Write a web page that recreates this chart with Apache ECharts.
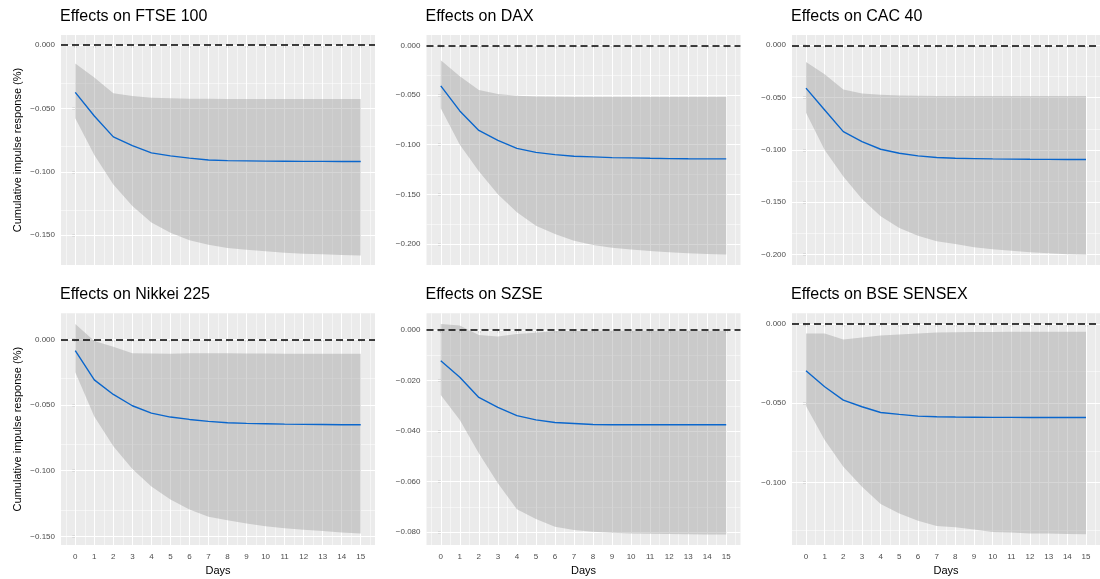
<!DOCTYPE html>
<html>
<head>
<meta charset="utf-8">
<script src="https://cdn.jsdelivr.net/npm/echarts@6/dist/echarts.min.js"></script>
<style>
  html, body { margin: 0; padding: 0; background: #fff; }
  #chart { width: 1100px; height: 579px; }
</style>
</head>
<body>
<div id="chart"></div>
<script>
// x axis: days after shock
const days = [0, 1, 2, 3, 4, 5, 6, 7, 8, 9, 10, 11, 12, 13, 14, 15];

const titles = ['Effects on FTSE 100', 'Effects on DAX', 'Effects on CAC 40',
    'Effects on Nikkei 225', 'Effects on SZSE', 'Effects on BSE SENSEX'];

// FTSE 100
const ftseMean = [-0.0373, -0.0559, -0.0724, -0.0793, -0.0850, -0.0874, -0.0892, -0.0906, -0.0911, -0.0913, -0.0915, -0.0916, -0.0917, -0.0917, -0.0918, -0.0918];
const ftseUpper = [-0.0144, -0.0255, -0.0380, -0.0402, -0.0415, -0.0420, -0.0423, -0.0424, -0.0425, -0.0425, -0.0425, -0.0425, -0.0425, -0.0425, -0.0425, -0.0425];
const ftseLower = [-0.0577, -0.0866, -0.1100, -0.1270, -0.1400, -0.1480, -0.1540, -0.1575, -0.1600, -0.1614, -0.1627, -0.1638, -0.1646, -0.1650, -0.1656, -0.1660];

// DAX
const daxMean = [-0.0407, -0.0660, -0.0857, -0.0957, -0.1037, -0.1077, -0.1100, -0.1117, -0.1123, -0.1130, -0.1133, -0.1137, -0.1140, -0.1142, -0.1143, -0.1143];
const daxUpper = [-0.0150, -0.0310, -0.0450, -0.0490, -0.0507, -0.0515, -0.0518, -0.0520, -0.0520, -0.0520, -0.0520, -0.0520, -0.0520, -0.0520, -0.0520, -0.0520];
const daxLower = [-0.0633, -0.1000, -0.1267, -0.1500, -0.1680, -0.1817, -0.1900, -0.1967, -0.2010, -0.2037, -0.2057, -0.2070, -0.2083, -0.2093, -0.2100, -0.2107];

// CAC 40
const cacMean = [-0.0410, -0.0619, -0.0825, -0.0920, -0.0994, -0.1032, -0.1057, -0.1073, -0.1080, -0.1083, -0.1086, -0.1088, -0.1090, -0.1091, -0.1092, -0.1092];
const cacUpper = [-0.0159, -0.0276, -0.0422, -0.0460, -0.0473, -0.0480, -0.0483, -0.0485, -0.0486, -0.0486, -0.0486, -0.0486, -0.0486, -0.0486, -0.0486, -0.0486];
const cacLower = [-0.0644, -0.1000, -0.1254, -0.1470, -0.1635, -0.1746, -0.1820, -0.1873, -0.1900, -0.1930, -0.1949, -0.1965, -0.1977, -0.1987, -0.1997, -0.2003];

// Nikkei 225
const nikkeiMean = [-0.0086, -0.0309, -0.0420, -0.0506, -0.0562, -0.0592, -0.0610, -0.0625, -0.0635, -0.0640, -0.0643, -0.0646, -0.0648, -0.0649, -0.0650, -0.0650];
const nikkeiUpper = [0.0116, -0.0013, -0.0056, -0.0106, -0.0109, -0.0110, -0.0107, -0.0106, -0.0107, -0.0108, -0.0109, -0.0110, -0.0110, -0.0110, -0.0110, -0.0110];
const nikkeiLower = [-0.0250, -0.0587, -0.0815, -0.0987, -0.1120, -0.1220, -0.1296, -0.1350, -0.1377, -0.1402, -0.1423, -0.1438, -0.1450, -0.1460, -0.1470, -0.1478];

// SZSE
const szseMean = [-0.0122, -0.0187, -0.0267, -0.0306, -0.0339, -0.0356, -0.0366, -0.0370, -0.0374, -0.0375, -0.0375, -0.0375, -0.0375, -0.0375, -0.0375, -0.0375];
const szseUpper = [0.0024, 0.0018, -0.0020, -0.0026, -0.0016, -0.0011, -0.0004, -0.0003, -0.0002, -0.0002, -0.0002, -0.0002, -0.0002, -0.0002, -0.0002, -0.0002];
const szseLower = [-0.0257, -0.0356, -0.0488, -0.0607, -0.0710, -0.0748, -0.0779, -0.0792, -0.0799, -0.0803, -0.0805, -0.0806, -0.0807, -0.0808, -0.0809, -0.0809];

// BSE SENSEX
const bseMean = [-0.0296, -0.0396, -0.0480, -0.0522, -0.0558, -0.0570, -0.0581, -0.0585, -0.0587, -0.0588, -0.0589, -0.0589, -0.0590, -0.0590, -0.0590, -0.0590];
const bseUpper = [-0.0061, -0.0061, -0.0099, -0.0086, -0.0073, -0.0067, -0.0061, -0.0055, -0.0053, -0.0052, -0.0051, -0.0050, -0.0050, -0.0050, -0.0050, -0.0050];
const bseLower = [-0.0518, -0.0732, -0.0900, -0.1025, -0.1134, -0.1193, -0.1239, -0.1273, -0.1281, -0.1294, -0.1310, -0.1314, -0.1319, -0.1320, -0.1323, -0.1325];

// y tick labels per panel
const yTicks = [
    [0, -0.05, -0.10, -0.15],
    [0, -0.05, -0.10, -0.15, -0.20],
    [0, -0.05, -0.10, -0.15, -0.20],
    [0, -0.05, -0.10, -0.15],
    [0, -0.02, -0.04, -0.06, -0.08],
    [0, -0.05, -0.10]
];
// y limits (ggplot expanded ranges)
const yMin = [-0.1735, -0.2212, -0.2100, -0.1566, -0.0851, -0.1392];
const yMax = [0.0080, 0.0105, 0.0098, 0.0198, 0.0066, 0.0066];

const means = [ftseMean, daxMean, cacMean, nikkeiMean, szseMean, bseMean];
const uppers = [ftseUpper, daxUpper, cacUpper, nikkeiUpper, szseUpper, bseUpper];
const lowers = [ftseLower, daxLower, cacLower, nikkeiLower, szseLower, bseLower];

// layout
const colLeft = [61, 426.5, 792];
const rowTop = [35, 313.3];
const rowHeight = [230, 231.7];
const panelWidth = 314;
const xMin = -0.75, xMax = 15.75;

const FONT = 'Liberation Sans, Arial, Helvetica, sans-serif';
const fmt = v => v.toFixed(3).replace('-', '\u2212');

const grids = [], xAxes = [], yAxes = [], titleList = [], series = [];

for (let i = 0; i < 6; i++) {
    const row = Math.floor(i / 3), col = i % 3;
    const bottomRow = row === 1;

    grids.push({
        left: colLeft[col], top: rowTop[row], width: panelWidth, height: rowHeight[row],
        show: true, backgroundColor: '#EBEBEB', borderWidth: 0
    });

    titleList.push({
        text: titles[i], left: colLeft[col] - 1, top: row === 0 ? 9 : 287, padding: 0,
        textStyle: { fontSize: 16, fontWeight: 'normal', color: '#000', fontFamily: FONT }
    });

    xAxes.push({
        type: 'value', gridIndex: i, min: xMin, max: xMax,
        axisLine: { show: false },
        splitLine: { show: false },
        axisTick: { show: true, length: 3, customValues: days, lineStyle: { color: '#333', width: 1.2 } },
        axisLabel: {
            show: bottomRow, customValues: days, margin: 8,
            color: '#4D4D4D', fontSize: 8, fontFamily: FONT
        },
        name: bottomRow ? 'Days' : '', nameLocation: 'middle', nameGap: 20,
        nameTextStyle: { fontSize: 11, color: '#000', fontFamily: FONT }
    });

    yAxes.push({
        type: 'value', gridIndex: i, min: yMin[i], max: yMax[i],
        axisLine: { show: false },
        splitLine: { show: false },
        axisTick: { show: true, length: 3, customValues: yTicks[i], lineStyle: { color: '#333', width: 1.2 } },
        axisLabel: {
            customValues: yTicks[i], margin: 6, formatter: fmt,
            color: '#4D4D4D', fontSize: 8, fontFamily: FONT
        },
        name: col === 0 ? 'Cumulative impulse response (%)' : '',
        nameLocation: 'middle', nameGap: 38,
        nameTextStyle: { fontSize: 11, color: '#000', fontFamily: FONT }
    });

    // gridlines: major at ticks, minor halfway
    const yStep = Math.abs(yTicks[i][1] - yTicks[i][0]);
    const yMinor = [];
    for (let k = -1; k < yTicks[i].length; k++) {
        const v = yTicks[i][0] - (k + 0.5) * yStep;
        if (v > yMin[i] && v < yMax[i]) yMinor.push(v);
    }
    const xMinor = [days[0] - 0.5].concat(days.map(d => d + 0.5));
    const gridLines = [];
    xMinor.forEach(v => gridLines.push({ xAxis: v, lineStyle: { width: 0.5 } }));
    yMinor.forEach(v => gridLines.push({ yAxis: v, lineStyle: { width: 0.5 } }));
    days.forEach(v => gridLines.push({ xAxis: v, lineStyle: { width: 1.1 } }));
    yTicks[i].forEach(v => gridLines.push({ yAxis: v, lineStyle: { width: 1.1 } }));

    series.push({
        type: 'line', xAxisIndex: i, yAxisIndex: i, data: [], z: 1, silent: true,
        markLine: {
            z: 1, silent: true, symbol: ['none', 'none'], label: { show: false },
            lineStyle: { color: '#FFFFFF', type: 'solid' },
            emphasis: { disabled: true },
            data: gridLines
        }
    });

    // confidence band as one polygon: upper edge forward, lower edge back
    const up = uppers[i], lo = lowers[i];
    series.push({
        type: 'custom', xAxisIndex: i, yAxisIndex: i, z: 2, silent: true,
        data: days.map((d, k) => [d, lo[k], up[k]]),
        renderItem: (params, api) => {
            if (params.dataIndex !== 0) return null;
            const pts = [];
            days.forEach((d, k) => pts.push(api.coord([d, up[k]])));
            for (let k = days.length - 1; k >= 0; k--) pts.push(api.coord([days[k], lo[k]]));
            return {
                type: 'polygon', shape: { points: pts },
                style: { fill: 'rgba(153,153,153,0.4)' }
            };
        }
    });

    // zero reference line
    series.push({
        type: 'line', xAxisIndex: i, yAxisIndex: i, data: [], z: 3, silent: true,
        markLine: {
            z: 3, silent: true, symbol: ['none', 'none'], label: { show: false },
            lineStyle: { color: '#000', type: [7, 4], width: 1.5 },
            data: [{ yAxis: 0 }]
        }
    });

    // point estimate
    series.push({
        type: 'line', xAxisIndex: i, yAxisIndex: i, z: 4, silent: true,
        symbol: 'none', lineStyle: { color: '#0A66CC', width: 1.4 },
        data: days.map((d, k) => [d, means[i][k]])
    });
}

const chart = echarts.init(document.getElementById('chart'), null, { renderer: 'canvas' });
chart.setOption({
    animation: false,
    backgroundColor: '#FFFFFF',
    title: titleList,
    grid: grids,
    xAxis: xAxes,
    yAxis: yAxes,
    series: series
});
</script>
</body>
</html>
